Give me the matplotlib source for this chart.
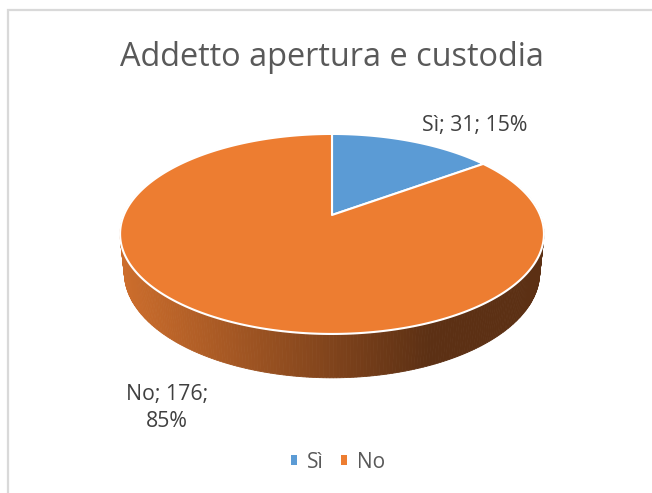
import numpy as np
import matplotlib
matplotlib.use("Agg")
import matplotlib.pyplot as plt
from matplotlib.patches import Polygon, Patch
from matplotlib.colors import to_rgb

# ---- data ----
categories = ["Sì", "No"]
values = [31, 176]
colors = ["#5B9BD5", "#ED7D31"]
title = "Addetto apertura e custodia"

FONT = ["Open Sans", "DejaVu Sans"]
plt.rcParams["font.family"] = FONT

W, H = 652, 493
fig = plt.figure(figsize=(W / 100, H / 100), dpi=100)
ax = fig.add_axes([0, 0, 1, 1])
ax.set_xlim(0, W)
ax.set_ylim(H, 0)
ax.axis("off")

# ---- 3D perspective projection ----
theta = np.radians(27)
s, c = np.sin(theta), np.cos(theta)
D = 4.70
thick = 0.205
CX, CY, SX, SY = 332, 215, 978, 998


def proj(phi, z):
    X = np.sin(phi)
    Y = np.cos(phi)
    yc = Y * s + z * c
    zc = Y * c - z * s + D
    return CX + SX * X / zc, CY - SY * yc / zc


total = sum(values)
fracs = np.array(values) / total
bounds = np.concatenate([[0], np.cumsum(fracs)]) * 2 * np.pi

# side of the pie (gradient shading)
light = np.array(to_rgb("#CC6D2C"))
dark = np.array(to_rgb("#5C3014"))
n = 400
for i in range(len(values)):
    a0, a1 = bounds[i], bounds[i + 1]
    phis = np.linspace(a0, a1, n)
    base = np.array(to_rgb(colors[i]))
    for k in range(n - 1):
        p0, p1 = phis[k], phis[k + 1]
        if np.cos((p0 + p1) / 2) > 0.3:
            continue
        xt0, yt0 = proj(p0, 0)
        xt1, yt1 = proj(p1, 0)
        xb1, yb1 = proj(p1, -thick)
        xb0, yb0 = proj(p0, -thick)
        xm = (xt0 + xt1) / 2
        t = np.clip((xm - 122) / (430 - 122), 0, 1)
        col = light * (1 - t) + dark * t
        if i == 0:
            col = base * 0.6
        ax.add_patch(Polygon([[xt0, yt0], [xt1, yt1], [xb1, yb1], [xb0, yb0]],
                             closed=True, facecolor=col, edgecolor=col,
                             linewidth=0.6, zorder=1))

# top face
for i in range(len(values)):
    phis = np.linspace(bounds[i], bounds[i + 1], 300)
    xs, ys = proj(phis, 0)
    pts = np.column_stack([np.concatenate([[CX], xs]), np.concatenate([[CY], ys])])
    ax.add_patch(Polygon(pts, closed=True, facecolor=colors[i], edgecolor="white",
                         linewidth=1.5, joinstyle="round", zorder=3))

# data labels
pcts = [round(f * 100) for f in fracs]
ax.text(475, 125, f"{categories[0]}; {values[0]}; {pcts[0]}%", ha="center", va="center",
        fontsize=15.3, color="#404040", zorder=5)
ax.text(167, 408, f"{categories[1]}; {values[1]};\n{pcts[1]}%", ha="center", va="center",
        fontsize=15.3, color="#404040", linespacing=1.42, zorder=5)

# title
ax.text(332, 57, title, ha="center", va="center", fontsize=23.4, color="#595959")

# border
ax.plot([8, 8, W + 5], [H + 5, 10, 10], color="#D9D9D9", linewidth=1.6,
        solid_joinstyle="miter", zorder=0)

# legend
handles = [Patch(facecolor=col, edgecolor="none") for col in colors]
fig.legend(handles, categories, loc="center", bbox_to_anchor=(338 / W, 1 - 462 / H),
           ncol=2, frameon=False, fontsize=15, handlelength=0.3, handleheight=0.3,
           handletextpad=0.45, columnspacing=0.85, labelcolor="#595959")

fig.savefig("out.png", dpi=100)
